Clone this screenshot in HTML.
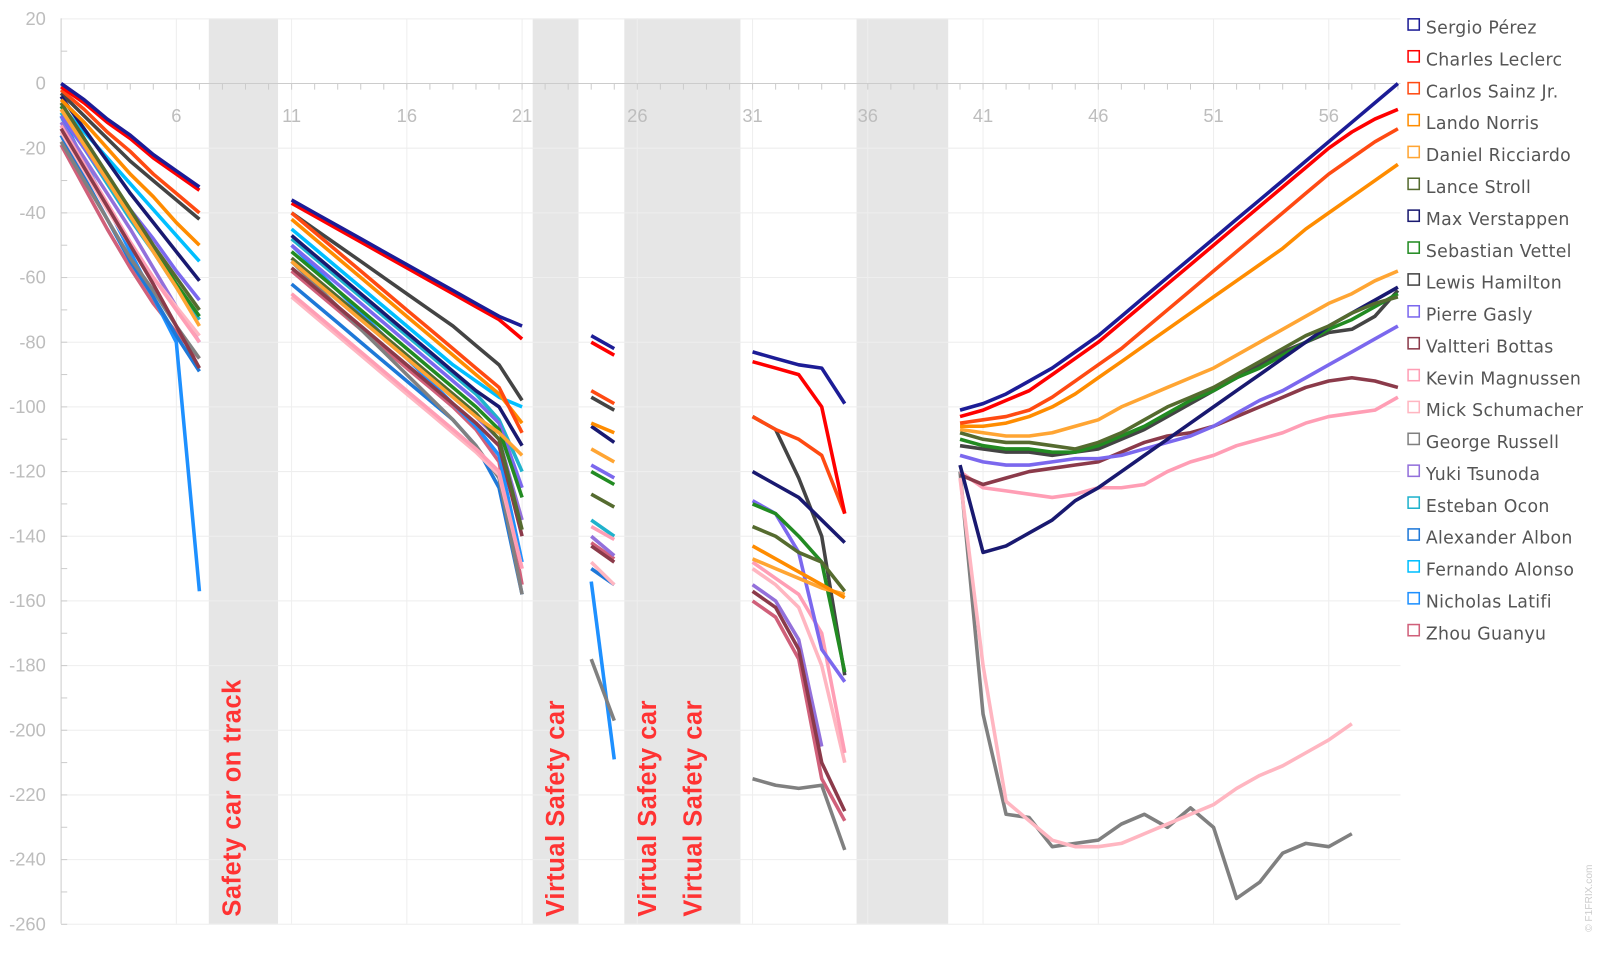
<!DOCTYPE html>
<html><head><meta charset="utf-8"><style>
html,body{margin:0;padding:0;background:#fff;overflow:hidden;width:1597px;height:963px;}
svg{display:block;font-family:"Liberation Sans","DejaVu Sans",sans-serif;}
</style></head><body>
<svg width="1597" height="963" viewBox="0 0 1597 963" xmlns="http://www.w3.org/2000/svg"><g id="c" transform="scale(1.0185)"></g></svg>
<script>
const S=document.getElementById('c');const NS='http://www.w3.org/2000/svg';
function el(t,a,txt){const e=document.createElementNS(NS,t);for(const k in a)e.setAttribute(k,a[k]);if(txt!==undefined)e.textContent=txt;S.appendChild(e);return e;}
const X=l=>60+(l-1)*22.63, Y=v=>82-v*3.175;
[[205,273],[523,568],[613,727],[841,931]].forEach(r=>el('rect',{x:r[0],y:18,width:r[1]-r[0],height:889,fill:'#e6e6e6'}));
for(let v=20;v>=-260;v-=20){el('line',{x1:60,x2:1375,y1:Y(v),y2:Y(v),stroke:'#eeeeee','stroke-width':1});
 el('text',{x:45,y:Y(v)+6,'text-anchor':'end','font-size':18,fill:'#bdbdbd'},v);}
for(let l=6;l<=56;l+=5){el('line',{x1:X(l),x2:X(l),y1:18,y2:907,stroke:'#eeeeee'});}
el('line',{x1:60,x2:60,y1:18,y2:907,stroke:'#ccc'});
el('line',{x1:60,x2:1375,y1:82,y2:82,stroke:'#ccc'});
for(let v=10;v>=-260;v-=10)el('line',{x1:60,x2:66,y1:Y(v),y2:Y(v),stroke:'#ccc'});
for(let l=1;l<=59;l++)el('line',{x1:X(l),x2:X(l),y1:82,y2:88,stroke:'#ccc'});
for(let l=6;l<=56;l+=5)el('text',{x:X(l),y:120,'text-anchor':'middle','font-size':18,fill:'#bdbdbd'},l);
[[236,'Safety car on track'],[554,'Virtual Safety car'],[644,'Virtual Safety car'],[689,'Virtual Safety car']].forEach(a=>{
 el('text',{x:0,y:0,transform:`translate(${a[0]},900) rotate(-90)`,'font-size':25,'font-weight':'bold',fill:'#ff3333','letter-spacing':0.5},a[1]);});
const D=[
['Sergio Pérez','#1c1c96',[1,[0,-5,-11,-16,-22,-27,-32]],[11,[-36,-40,-44,-48,-52,-56,-60,-64,-68,-72,-75]],[24,[-78,-82]],[31,[-83,-85,-87,-88,-99]],[40,[-101,-99,-96,-92,-88,-83,-78,-72,-66,-60,-54,-48,-42,-36,-30,-24,-18,-12,-6,0]]],
['Charles Leclerc','#ff0000',[1,[-1,-6,-12,-17,-23,-28,-33]],[11,[-37,-41,-45,-49,-53,-57,-61,-65,-69,-73,-79]],[24,[-80,-84]],[31,[-86,-88,-90,-100,-133]],[40,[-103,-101,-98,-95,-90,-85,-80,-74,-68,-62,-56,-50,-44,-38,-32,-26,-20,-15,-11,-8]]],
['Carlos Sainz Jr.','#ff4a12',[1,[-2,-8,-15,-21,-28,-34,-40]],[11,[-40,-46,-52,-58,-64,-70,-76,-82,-88,-94,-108]],[24,[-95,-99]],[31,[-103,-107,-110,-115,-133]],[40,[-105,-104,-103,-101,-97,-92,-87,-82,-76,-70,-64,-58,-52,-46,-40,-34,-28,-23,-18,-14]]],
['Lando Norris','#ff8c00',[1,[-5,-12,-20,-28,-35,-43,-50]],[11,[-42,-48,-54,-60,-66,-72,-78,-84,-90,-96,-105]],[24,[-105,-108]],[31,[-143,-147,-151,-155,-159]],[40,[-106,-106,-105,-103,-100,-96,-91,-86,-81,-76,-71,-66,-61,-56,-51,-45,-40,-35,-30,-25]]],
['Daniel Ricciardo','#ffa533',[1,[-8,-19,-30,-41,-52,-63,-75]],[11,[-55,-61,-67,-73,-79,-85,-91,-97,-103,-108,-115]],[24,[-113,-117]],[31,[-147,-150,-153,-156,-158]],[40,[-107,-108,-109,-109,-108,-106,-104,-100,-97,-94,-91,-88,-84,-80,-76,-72,-68,-65,-61,-58]]],
['Lance Stroll','#556b2f',[1,[-6,-17,-28,-39,-50,-60,-70]],[11,[-54,-60,-66,-72,-78,-84,-90,-96,-102,-110,-138]],[24,[-127,-131]],[31,[-137,-140,-145,-148,-157]],[40,[-108,-110,-111,-111,-112,-113,-111,-108,-104,-100,-97,-94,-90,-86,-82,-78,-75,-71,-68,-66]]],
['Max Verstappen','#191970',[1,[-4,-14,-24,-34,-43,-52,-61]],[11,[-47,-53,-59,-65,-71,-77,-83,-89,-95,-100,-112]],[24,[-106,-111]],[31,[-120,-124,-128,-135,-142]],[40,[-118,-145,-143,-139,-135,-129,-125,-120,-115,-110,-105,-100,-95,-90,-85,-80,-75,-71,-67,-63]]],
['Sebastian Vettel','#228b22',[1,[-7,-18,-29,-40,-51,-62,-72]],[11,[-52,-58,-64,-70,-76,-82,-88,-94,-100,-107,-128]],[24,[-120,-124]],[31,[-130,-133,-140,-148,-182]],[40,[-110,-112,-113,-113,-114,-114,-112,-109,-106,-102,-98,-95,-91,-88,-84,-80,-76,-73,-69,-65]]],
['Lewis Hamilton','#444444',[1,[-3,-10,-17,-24,-30,-36,-42]],[11,[-40,-45,-50,-55,-60,-65,-70,-75,-81,-87,-98]],[24,[-97,-101]],[31,[-103,-107,-122,-140,-183]],[40,[-112,-113,-114,-114,-115,-114,-113,-110,-107,-103,-99,-95,-91,-87,-83,-80,-77,-76,-72,-64]]],
['Pierre Gasly','#7b68ee',[1,[-10,-20,-30,-39,-48,-58,-67]],[11,[-50,-56,-62,-68,-74,-80,-86,-92,-98,-105,-125]],[24,[-118,-122]],[31,[-129,-133,-145,-175,-185]],[40,[-115,-117,-118,-118,-117,-116,-116,-115,-113,-111,-109,-106,-102,-98,-95,-91,-87,-83,-79,-75]]],
['Valtteri Bottas','#8b3a4a',[1,[-14,-26,-38,-50,-62,-75,-88]],[11,[-57,-63,-69,-75,-81,-87,-93,-99,-105,-112,-140]],[24,[-143,-148]],[31,[-157,-162,-175,-210,-225]],[40,[-121,-124,-122,-120,-119,-118,-117,-114,-111,-109,-108,-106,-103,-100,-97,-94,-92,-91,-92,-94]]],
['Kevin Magnussen','#ff9eb5',[1,[-13,-25,-37,-49,-60,-70,-80]],[11,[-65,-71,-77,-83,-89,-95,-101,-107,-113,-120,-150]],[24,[-137,-141]],[31,[-148,-153,-158,-170,-207]],[40,[-120,-125,-126,-127,-128,-127,-125,-125,-124,-120,-117,-115,-112,-110,-108,-105,-103,-102,-101,-97]]],
['Mick Schumacher','#ffb6c1',[1,[-15,-27,-39,-50,-60,-69,-78]],[11,[-66,-72,-78,-84,-90,-96,-102,-108,-114,-121,-150]],[24,[-148,-155]],[31,[-150,-155,-162,-180,-210]],[40,[-122,-180,-222,-228,-234,-236,-236,-235,-232,-229,-226,-223,-218,-214,-211,-207,-203,-198]]],
['George Russell','#808080',[1,[-18,-30,-42,-54,-64,-75,-85]],[11,[-55,-62,-69,-76,-83,-90,-97,-104,-112,-122,-158]],[24,[-178,-197]],[31,[-215,-217,-218,-217,-237]],[40,[-120,-195,-226,-227,-236,-235,-234,-229,-226,-230,-224,-230,-252,-247,-238,-235,-236,-232]]],
['Yuki Tsunoda','#9370db',[1,[-12,-23,-34,-45,-57,-69,-80]],[11,[-55,-61,-67,-73,-79,-85,-91,-97,-103,-110,-135]],[24,[-140,-146]],[31,[-155,-160,-172,-205]]],
['Esteban Ocon','#20b2cc',[1,[-9,-20,-31,-42,-52,-63,-73]],[11,[-48,-54,-60,-66,-72,-78,-84,-90,-96,-104,-120]],[24,[-135,-140]]],
['Alexander Albon','#1e78d8',[1,[-16,-29,-42,-55,-66,-78,-89]],[11,[-62,-68,-74,-80,-86,-92,-98,-104,-112,-125,-158]],[24,[-150,-155]]],
['Fernando Alonso','#00bfff',[1,[-7,-15,-23,-31,-39,-47,-55]],[11,[-45,-51,-57,-63,-69,-75,-81,-87,-92,-97,-100]]],
['Nicholas Latifi','#1e90ff',[1,[-10,-24,-38,-52,-66,-80,-157]],[11,[-50,-57,-64,-71,-78,-85,-92,-99,-106,-115,-148]],[24,[-154,-209]]],
['Zhou Guanyu','#d0607a',[1,[-19,-32,-45,-57,-68,-77,-85]],[11,[-58,-64,-70,-76,-82,-88,-94,-100,-107,-117,-155]],[24,[-142,-147]],[31,[-160,-165,-178,-215,-228]]]
];
for(let i=D.length-1;i>=0;i--){const d=D[i];
 for(let s=2;s<d.length;s++){const [l0,vs]=d[s];
  el('polyline',{points:vs.map((v,j)=>X(l0+j).toFixed(1)+','+Y(v).toFixed(1)).join(' '),fill:'none',stroke:d[1],'stroke-width':3.5,'stroke-linejoin':'round'});}}
D.forEach((d,i)=>{const y=27+i*31.3;
 el('rect',{x:1382.5,y:y-8.5,width:11,height:11,fill:'none',stroke:d[1],'stroke-width':1.5});
 el('text',{x:1400,y:y+6,'font-size':17,fill:'#555','letter-spacing':0.3,'font-family':'"DejaVu Sans",sans-serif'},d[0]);});
el('text',{x:0,y:0,transform:'translate(1563,915) rotate(-90)','font-size':10,fill:'#ccc'},'© F1FRIX.com');
</script>
</body></html>
